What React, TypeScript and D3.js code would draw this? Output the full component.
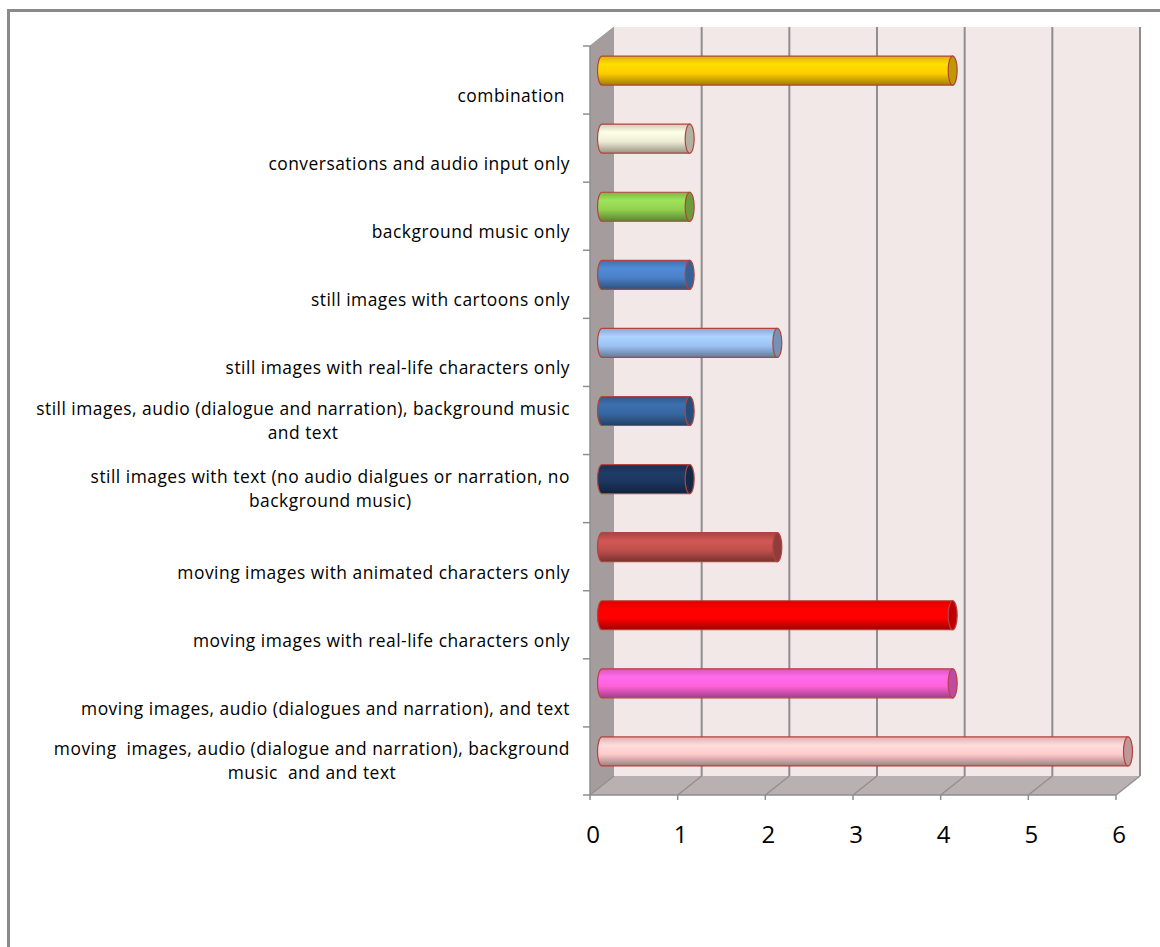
import React, { useEffect, useRef } from "react";
import * as d3 from "d3";

const categories: string[][] = [
  ["combination "],
  ["conversations and audio input only"],
  ["background music only"],
  ["still images with cartoons only"],
  ["still images with real-life characters only"],
  ["still images, audio (dialogue and narration), background music", "and text"],
  ["still images with text (no audio dialgues or narration, no", "background music)"],
  ["moving images with animated characters only"],
  ["moving images with real-life characters only"],
  ["moving images, audio (dialogues and narration), and text"],
  ["moving  images, audio (dialogue and narration), background", "music  and and text"],
];
const values: number[] = [4, 1, 1, 1, 2, 1, 1, 2, 4, 4, 6];
const barColors: string[] = [
  "#ffcc00", "#eeecd4", "#92d050", "#4a80c6", "#9cc2f2", "#3766a0",
  "#1c365f", "#c0504d", "#ff0000", "#ff62d8", "#ffcaca",
];
const xTicks: number[] = [0, 1, 2, 3, 4, 5, 6];

const W = 1160, H = 947;
const FRONT_L = 590, FRONT_R = 1116, TOP = 46, BOTTOM = 795;
const DX = 24, DY = -19;
const FONT = "'Open Sans', Lato, sans-serif";
const LABEL_SIZE = 17.4;
const LETTER = 0.5;

export default function App() {
  const ref = useRef<SVGSVGElement>(null);
  useEffect(() => {
    const svg = d3.select(ref.current);
    svg.selectAll("*").remove();
    const defs = svg.append("defs");

    const x = d3.scaleLinear().domain([0, 6]).range([FRONT_L, FRONT_R]);
    const y = d3.scaleBand<number>().domain(d3.range(categories.length)).range([TOP, BOTTOM]);

    // outer border
    svg.append("rect").attr("x", 8.5).attr("y", 10.5).attr("width", W + 20).attr("height", H + 20)
      .attr("fill", "#fff").attr("stroke", "#8a8a8a").attr("stroke-width", 3);

    // back wall
    svg.append("rect").attr("x", FRONT_L + DX).attr("y", TOP + DY)
      .attr("width", x(6) - FRONT_L).attr("height", BOTTOM - TOP).attr("fill", "#f3e8e8");
    // left wall
    svg.append("polygon")
      .attr("points", [[FRONT_L, TOP], [FRONT_L + DX, TOP + DY], [FRONT_L + DX, BOTTOM + DY], [FRONT_L, BOTTOM]].map(p => p.join(",")).join(" "))
      .attr("fill", "#a59d9d");
    // floor
    svg.append("polygon")
      .attr("points", [[FRONT_L, BOTTOM], [FRONT_L + DX, BOTTOM + DY], [x(6) + DX, BOTTOM + DY], [x(6), BOTTOM]].map(p => p.join(",")).join(" "))
      .attr("fill", "#b9b1b1");

    // gridlines
    xTicks.filter(v => v > 0).forEach(v => {
      svg.append("line").attr("x1", x(v) + DX).attr("x2", x(v) + DX).attr("y1", TOP + DY).attr("y2", BOTTOM + DY)
        .attr("stroke", "#8e8e8e").attr("stroke-width", 2);
    });
    xTicks.forEach(v => {
      svg.append("line").attr("x1", x(v) + DX).attr("x2", x(v)).attr("y1", BOTTOM + DY).attr("y2", BOTTOM)
        .attr("stroke", "#8e8e8e").attr("stroke-width", 1.2);
    });
    // floor front edge + ticks
    svg.append("line").attr("x1", FRONT_L).attr("x2", x(6)).attr("y1", BOTTOM).attr("y2", BOTTOM)
      .attr("stroke", "#8e8e8e").attr("stroke-width", 1.5);
    xTicks.forEach(v => {
      svg.append("line").attr("x1", x(v)).attr("x2", x(v)).attr("y1", BOTTOM).attr("y2", BOTTOM + 5)
        .attr("stroke", "#8e8e8e").attr("stroke-width", 1.5);
      svg.append("text").attr("x", x(v) + 3).attr("y", BOTTOM + 48).attr("text-anchor", "middle")
        .attr("font-family", FONT).attr("font-size", 24).attr("fill", "#000").text(String(v));
    });
    // left wall edges
    svg.append("line").attr("x1", FRONT_L).attr("x2", FRONT_L).attr("y1", TOP).attr("y2", BOTTOM)
      .attr("stroke", "#8e8e8e").attr("stroke-width", 1.5);
    svg.append("line").attr("x1", FRONT_L).attr("x2", FRONT_L + DX).attr("y1", TOP).attr("y2", TOP + DY)
      .attr("stroke", "#9a9a9a").attr("stroke-width", 1);
    // category ticks
    d3.range(categories.length + 1).forEach(i => {
      const yy = TOP + i * y.step();
      svg.append("line").attr("x1", FRONT_L - 7).attr("x2", FRONT_L).attr("y1", yy).attr("y2", yy)
        .attr("stroke", "#8e8e8e").attr("stroke-width", 1.5);
    });

    // bars
    const bh = 29;
    values.forEach((v, i) => {
      const base = d3.color(barColors[i])!;
      const gid = "g" + i;
      const g = defs.append("linearGradient").attr("id", gid).attr("x1", 0).attr("y1", 0).attr("x2", 0).attr("y2", 1);
      g.append("stop").attr("offset", "0").attr("stop-color", base.darker(0.4).formatHex());
      g.append("stop").attr("offset", "0.28").attr("stop-color", base.brighter(0.25).formatHex());
      g.append("stop").attr("offset", "0.6").attr("stop-color", base.formatHex());
      g.append("stop").attr("offset", "1").attr("stop-color", base.darker(1.3).formatHex());
      const cy = (y(i) as number) + y.bandwidth() / 2 + DY / 2;
      const x0 = x(0) + DX / 2;
      const x1 = x(v) + DX / 2;
      const top = cy - bh / 2, bot = cy + bh / 2;
      const rx = 4.5, ry = bh / 2;
      svg.append("path")
        .attr("d", `M${x1},${top} L${x0},${top} A${rx},${ry} 0 0 0 ${x0},${bot} L${x1},${bot} Z`)
        .attr("fill", `url(#${gid})`).attr("stroke", "#b2433f").attr("stroke-width", 1.2);
      svg.append("ellipse").attr("cx", x1).attr("cy", cy).attr("rx", rx).attr("ry", ry)
        .attr("fill", base.darker(0.8).formatHex()).attr("stroke", "#b2433f").attr("stroke-width", 1.2);
    });

    // category labels
    const LX = 570;
    categories.forEach((lines, i) => {
      const c = (y(i) as number) + y.bandwidth() / 2;
      const t = svg.append("text").attr("font-family", FONT).attr("font-size", LABEL_SIZE)
        .attr("letter-spacing", LETTER)
        .attr("dominant-baseline", "central").style("white-space", "pre");
      if (lines.length === 1) {
        t.append("tspan").attr("x", LX).attr("y", c + 15).attr("text-anchor", "end").text(lines[0]);
      } else {
        const s0 = t.append("tspan").attr("x", LX).attr("y", c - 12.5).attr("text-anchor", "end").text(lines[0]);
        const w = (s0.node() as SVGTextContentElement).getComputedTextLength();
        s0.attr("x", LX - w / 2).attr("text-anchor", "middle");
        t.append("tspan").attr("x", LX - w / 2).attr("y", c + 11.5).attr("text-anchor", "middle").text(lines[1]);
      }
    });
  }, []);
  return (
    <svg ref={ref} width={W} height={H} style={{ position: "absolute", left: 0, top: 0, background: "#fff" }} />
  );
}
